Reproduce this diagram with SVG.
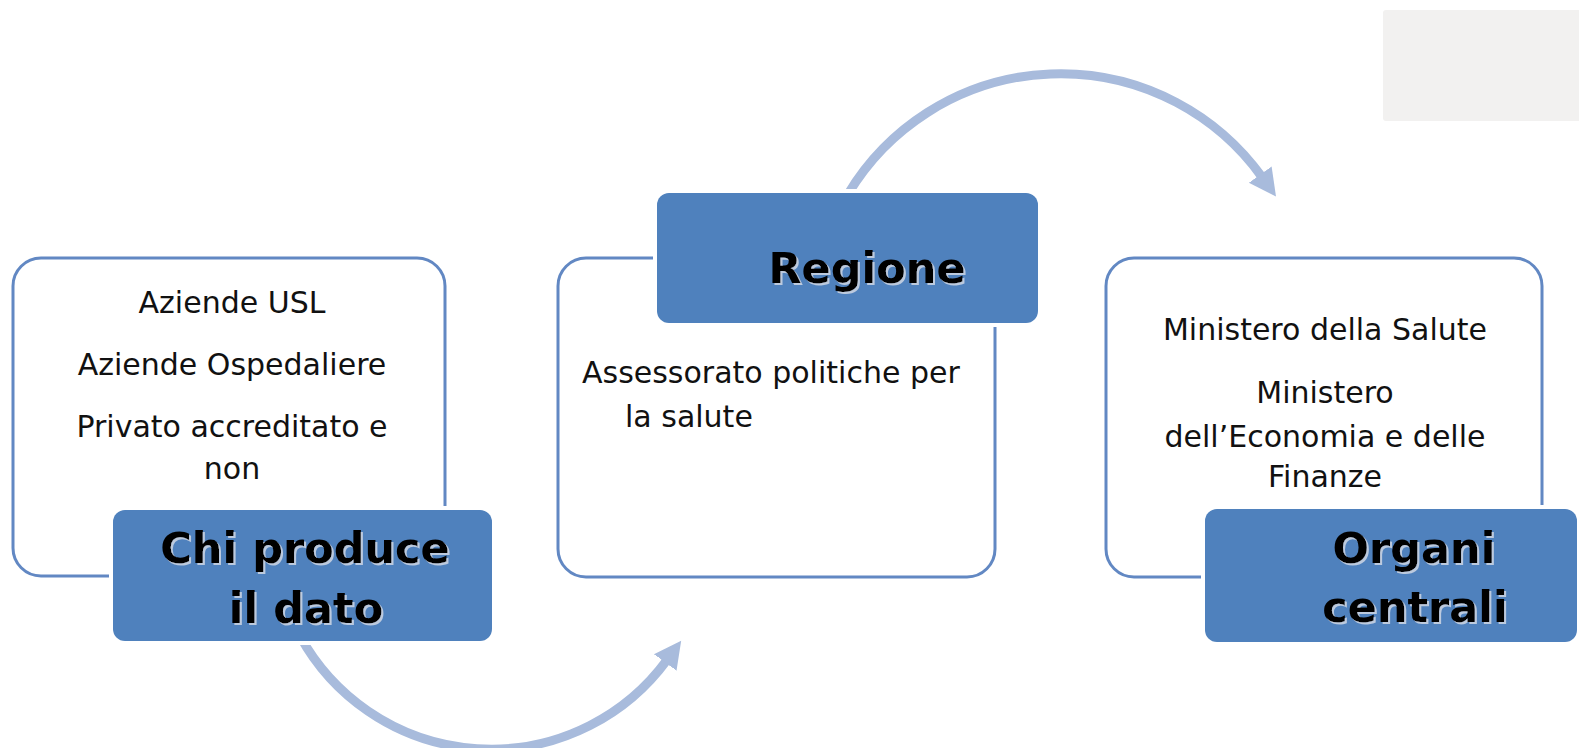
<svg xmlns="http://www.w3.org/2000/svg" width="1579" height="748" viewBox="0 0 1579 748">
<style>
.frame{fill:#ffffff;stroke:#6288c3;stroke-width:3}
.head{fill:#4f81bd}
.gap{fill:#ffffff}
.t{font-family:"DejaVu Sans",Verdana,sans-serif;font-size:30px;fill:#111111;text-anchor:middle}
.b{font-family:"DejaVu Sans",Verdana,sans-serif;font-size:43px;font-weight:bold;fill:#000000;text-anchor:middle;filter:url(#sh)}
.arc{fill:none;stroke:#a8bbdc;stroke-width:9}
</style>
<defs>
<filter id="sh" x="-10%" y="-20%" width="120%" height="150%">
<feDropShadow dx="2" dy="2" stdDeviation="0.6" flood-color="#c8d2e2" flood-opacity="0.9"/>
</filter>
<marker id="ah" markerUnits="userSpaceOnUse" markerWidth="30" markerHeight="34" refX="3" refY="17" orient="auto">
<path d="M0,3 L27,17 L0,31 Z" fill="#a8bbdc"/>
</marker>
</defs>
<rect x="1383" y="10" width="200" height="111" rx="3" fill="#f2f1f0"/>
<g id="connectors">
<path class="arc" d="M 848 194 A 248 248 0 0 1 1262 177" marker-end="url(#ah)"/>
<path class="arc" d="M 300 636 A 218 218 0 0 0 667 660" marker-end="url(#ah)"/>
</g>
<g id="node-produce">
<rect class="frame" x="13" y="258" width="432" height="318" rx="28"/>
<text class="t" x="232" y="313">Aziende USL</text>
<text class="t" x="232" y="375">Aziende Ospedaliere</text>
<text class="t" x="232" y="437">Privato accreditato e</text>
<text class="t" x="232" y="479">non</text>
<rect class="gap" x="109" y="506" width="387" height="139" rx="15"/>
<rect class="head" x="113" y="510" width="379" height="131" rx="12"/>
<text class="b" x="305" y="563">Chi produce</text>
<text class="b" x="306" y="623">il dato</text>
</g>
<g id="node-regione">
<rect class="frame" x="558" y="258" width="437" height="319" rx="28"/>
<text class="t" x="582" y="383" style="text-anchor:start">Assessorato politiche per</text>
<text class="t" x="625" y="427" style="text-anchor:start">la salute</text>
<rect class="gap" x="653" y="189" width="389" height="138" rx="15"/>
<rect class="head" x="657" y="193" width="381" height="130" rx="12"/>
<text class="b" x="867" y="283">Regione</text>
</g>
<g id="node-organi">
<rect class="frame" x="1106" y="258" width="436" height="319" rx="28"/>
<text class="t" x="1325" y="340">Ministero della Salute</text>
<text class="t" x="1325" y="403">Ministero</text>
<text class="t" x="1325" y="447">dell’Economia e delle</text>
<text class="t" x="1325" y="487">Finanze</text>
<rect class="gap" x="1201" y="505" width="380" height="141" rx="15"/>
<rect class="head" x="1205" y="509" width="372" height="133" rx="12"/>
<text class="b" x="1414" y="563">Organi</text>
<text class="b" x="1415" y="622">centrali</text>
</g>
</svg>
